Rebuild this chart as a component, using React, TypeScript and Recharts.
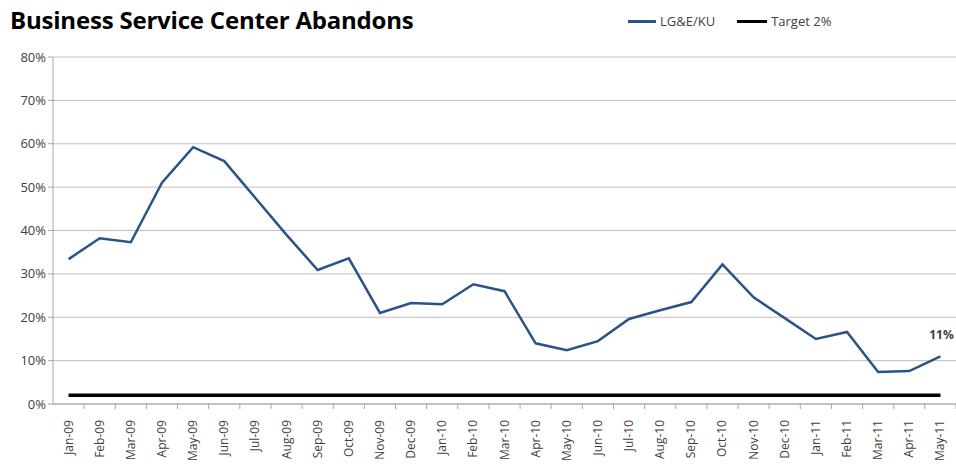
import { LineChart, Line, XAxis, YAxis, CartesianGrid, LabelList } from "recharts";

const months = [
  "Jan-09", "Feb-09", "Mar-09", "Apr-09", "May-09", "Jun-09", "Jul-09", "Aug-09",
  "Sep-09", "Oct-09", "Nov-09", "Dec-09", "Jan-10", "Feb-10", "Mar-10", "Apr-10",
  "May-10", "Jun-10", "Jul-10", "Aug-10", "Sep-10", "Oct-10", "Nov-10", "Dec-10",
  "Jan-11", "Feb-11", "Mar-11", "Apr-11", "May-11",
];

const abandons = [
  33.4, 38.2, 37.3, 51, 59.2, 56, 47.5, 39, 30.9, 33.6, 21, 23.3, 23, 27.6, 26, 14,
  12.4, 14.5, 19.6, 21.6, 23.5, 32.2, 24.6, 19.8, 15, 16.6, 7.4, 7.6, 11,
];

const target = 2;
const yTicks = [0, 10, 20, 30, 40, 50, 60, 70, 80];

const data = months.map((m, i) => ({ month: m, lgeku: abandons[i], target }));

const FONT = "'Open Sans', 'Liberation Sans', sans-serif";
const BLUE = "#2b5388";
const WIDTH = 956;
const HEIGHT = 469;
const LEFT = 53;
const RIGHT = 0;
const band = (WIDTH - LEFT - RIGHT) / months.length;

function MonthTick(props: any) {
  const { x, y, payload } = props;
  return (
    <g>
      <line x1={x + band / 2} y1={y - 8} x2={x + band / 2} y2={y - 3} stroke="#a6a6a6" />
      <text
        x={x}
        y={y + 8}
        transform={`rotate(-90 ${x} ${y + 8})`}
        textAnchor="end"
        dy={4}
        fontSize={12}
        fill="#404040"
        fontFamily={FONT}
      >
        {payload.value}
      </text>
    </g>
  );
}

function LastLabel(props: any) {
  const { x, y, index, value } = props;
  if (index !== months.length - 1) return null;
  return (
    <text x={x + 1} y={y - 17} textAnchor="middle" fontSize={12} fontWeight="bold" fill="#404040" fontFamily={FONT}>
      {Math.round(value)}%
    </text>
  );
}

export default function App() {
  return (
    <div style={{ position: "relative", width: WIDTH, height: HEIGHT, background: "#fff", fontFamily: FONT }}>
      <style>{"body{margin:0}"}</style>
      <div style={{ position: "absolute", left: 10, top: 3, fontSize: 24, fontWeight: 700, color: "#000", letterSpacing: -0.2 }}>
        Business Service Center Abandons
      </div>
      <div style={{ position: "absolute", left: 628, top: 12, display: "flex", alignItems: "center", fontSize: 13, color: "#404040" }}>
        <span style={{ display: "inline-block", width: 28, height: 3, background: BLUE, marginRight: 4 }} />
        <span style={{ marginRight: 22 }}>LG&amp;E/KU</span>
        <span style={{ display: "inline-block", width: 30, height: 3, background: "#000", marginRight: 4 }} />
        <span>Target 2%</span>
      </div>
      <LineChart
        width={WIDTH}
        height={HEIGHT}
        data={data}
        margin={{ top: 57, right: RIGHT, bottom: 0, left: 8 }}
      >
        <CartesianGrid vertical={false} stroke="#bfbfbf" />
        <XAxis
          dataKey="month"
          interval={0}
          height={65}
          padding={{ left: band / 2, right: band / 2 }}
          axisLine={{ stroke: "#a6a6a6" }}
          tickLine={false}
          tick={<MonthTick />}
        />
        <YAxis
          domain={[0, 80]}
          ticks={yTicks}
          width={45}
          tickFormatter={(v: number) => `${v}%`}
          axisLine={{ stroke: "#a6a6a6" }}
          tickLine={{ stroke: "#a6a6a6" }}
          tickSize={5}
          tick={{ fontSize: 13, fill: "#404040", fontFamily: FONT }}
        />
        <Line
          type="linear"
          dataKey="target"
          stroke="#000"
          strokeWidth={3.5}
          dot={false}
          isAnimationActive={false}
        />
        <Line
          type="linear"
          dataKey="lgeku"
          stroke={BLUE}
          strokeWidth={2.5}
          dot={false}
          isAnimationActive={false}
        >
          <LabelList dataKey="lgeku" content={<LastLabel />} />
        </Line>
      </LineChart>
    </div>
  );
}
